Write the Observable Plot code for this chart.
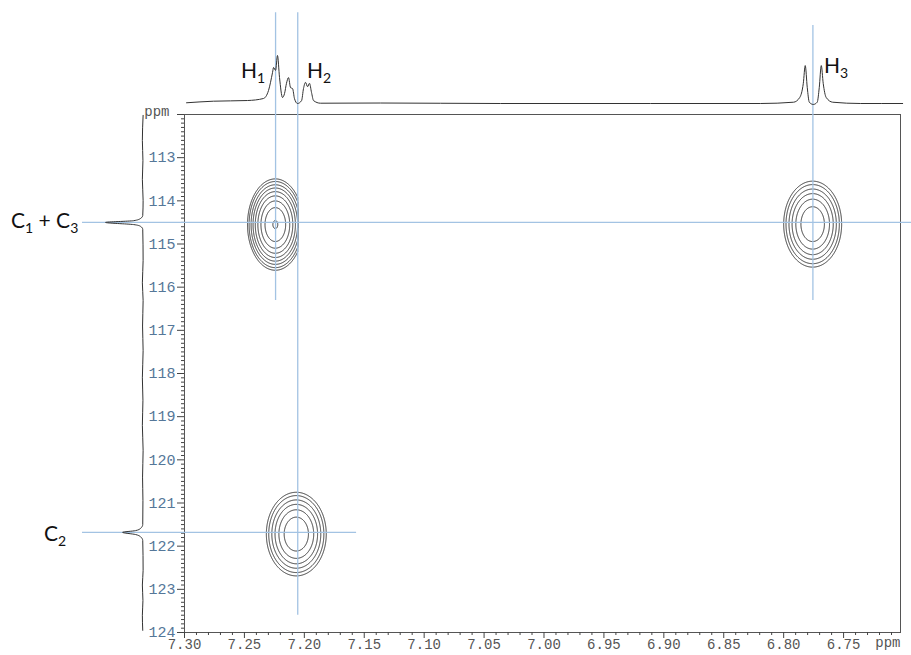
<!DOCTYPE html>
<html><head><meta charset="utf-8">
<script src="https://cdn.jsdelivr.net/npm/d3@7"></script>
<script src="https://cdn.jsdelivr.net/npm/@observablehq/plot@0.6"></script>
<style>
html,body{margin:0;padding:0;background:#fff;}
#wrap{position:relative;width:911px;height:655px;overflow:hidden;background:#fff;}
#wrap svg{position:absolute;left:0;top:0;}
.lab{position:absolute;font-family:Lato,"Open Sans",sans-serif;font-size:21px;color:#111;line-height:1;white-space:nowrap;}
.lab span{font-size:14px;position:relative;top:5px;}
</style></head><body><div id="wrap"></div>
<script>
// ---- 1D proton trace (top): chemical shift (ppm) and relative intensity
const topPpm = [7.2983, 7.2758, 7.2474, 7.2341, 7.2299, 7.2265, 7.2257, 7.2240, 7.2224, 7.2207, 7.2182, 7.2165, 7.2149, 7.2132, 7.2115, 7.2098, 7.2082, 7.2057, 7.2023, 7.2007, 7.1990, 7.1973, 7.1957, 7.1940, 7.1923, 7.1865, 7.1364, 7.0362, 6.9110, 6.8192, 6.7917, 6.7866, 6.7836, 6.7820, 6.7803, 6.7786, 6.7753, 6.7720, 6.7703, 6.7686, 6.7670, 6.7645, 6.7591, 6.7357, 6.7007];
const topInt = [0.015, 0.048, 0.062, 0.104, 0.27, 0.65, 0.75, 0.69, 1.0, 0.54, 0.125, 0.21, 0.42, 0.54, 0.33, 0.31, 0.10, 0.0, 0.06, 0.31, 0.44, 0.35, 0.42, 0.23, 0.06, 0.006, 0.01, 0.0, 0.0, 0.0, 0.027, 0.125, 0.42, 0.79, 0.33, 0.027, -0.02, 0.027, 0.33, 0.79, 0.42, 0.125, 0.027, 0.0, 0.0];

// ---- 1D carbon trace (left)
const leftPpm = [112.02, 112.6, 113.07, 113.5, 113.99, 114.34, 114.41, 114.46, 114.50, 114.55, 114.59, 114.66, 115.38, 115.9, 116.31, 116.9, 117.47, 118.1, 118.62, 119.2, 119.78, 120.4, 120.94, 121.50, 121.59, 121.64, 121.68, 121.73, 121.78, 121.87, 122.56, 122.9, 123.26, 123.6, 123.95];
const leftInt = [0.01, 0.03, 0.015, 0.03, 0.01, 0.02, 0.08, 0.26, 1.0, 0.26, 0.08, 0.02, 0.01, 0.03, 0.01, 0.025, 0.01, 0.03, 0.015, 0.03, 0.01, 0.025, 0.015, 0.02, 0.08, 0.21, 0.55, 0.21, 0.08, 0.02, 0.01, 0.03, 0.015, 0.03, 0.02];

// ---- 2D cross peaks (HSQC)
const crossH = [7.2242, 7.2067, 6.7758];
const crossC = [114.55, 121.72, 114.54];
const crossAmp = [1.0, 0.49, 0.49];
const crossSx = [0.0102, 0.0129, 0.01248];
const crossSy = [0.465, 0.50, 0.514];
const crossX1 = [7.258, 7.245, 6.812];
const crossX2 = [7.2055, 7.168, 6.740];
const crossY1 = [112.9, 120.0, 112.9];
const crossY2 = [116.3, 123.5, 116.2];
const contourLevels = [0.98, 0.7, 0.5, 0.36, 0.26, 0.19, 0.14, 0.1, 0.075];

// ---- guide lines
const vGuidePpm = [7.224, 7.2055, 6.7756];
const vGuideTop = [109.64, 109.64, 109.94];
const vGuideBottom = [116.31, 123.6, 116.31];
const hGuidePpm = [114.5, 121.68];
const hGuideLeft = [7.3851, 7.3851];
const hGuideRight = [6.69, 7.1564];

// ---- axes
const xTicks = [7.30, 7.25, 7.20, 7.15, 7.10, 7.05, 7.00, 6.95, 6.90, 6.85, 6.80, 6.75];
const yTicks = [112, 113, 114, 115, 116, 117, 118, 119, 120, 121, 122, 123, 124];
const xDomain = [7.30, 6.7025];
const yDomain = [112, 124];

// ---- labels
const labels = [
  {main: "H", sub: "1", left: 241, top: 59},
  {main: "H", sub: "2", left: 307, top: 59},
  {main: "H", sub: "3", left: 824, top: 54},
  {main: "C", sub: "1", tail: " + C", sub2: "3", left: 11, top: 209},
  {main: "C", sub: "2", left: 44, top: 522}
];

const W = 911, H = 655;
const mL = 184, mR = 11, mT = 114, mB = 23;
const wrap = document.getElementById("wrap");
const mono = "'Liberation Mono', 'DejaVu Sans Mono', monospace";

const xMinor = d3.range(0, 60).map(i => +(7.30 - i * 0.01).toFixed(2)).filter(v => v > 6.70 && !xTicks.some(t => Math.abs(t - v) < 1e-6));
const yMinor = d3.range(0, 121).map(i => +(112 + i * 0.1).toFixed(1)).filter(v => Math.abs(v - Math.round(v)) > 1e-6);

const contourMarks = crossH.map((cx, i) => Plot.contour({
  x1: crossX1[i], x2: crossX2[i], y1: crossY1[i], y2: crossY2[i],
  value: (x, y) => crossAmp[i] * Math.exp(-0.5 * (((x - cx) / crossSx[i]) ** 2 + ((y - crossC[i]) / crossSy[i]) ** 2)),
  thresholds: contourLevels,
  pixelSize: 0.5,
  stroke: "#333",
  strokeWidth: 1,
  fill: "none"
}));

const vGuides = vGuidePpm.map((p, i) => ({p, y1: vGuideTop[i], y2: vGuideBottom[i]}));
const hGuides = hGuidePpm.map((p, i) => ({p, x1: hGuideLeft[i], x2: hGuideRight[i]}));

const main = Plot.plot({
  width: W, height: H,
  marginLeft: mL, marginRight: mR, marginTop: mT, marginBottom: mB,
  style: {background: "transparent", fontFamily: mono, overflow: "visible"},
  x: {domain: xDomain},
  y: {domain: yDomain, reverse: true},
  marks: [
    ...contourMarks,
    Plot.frame({stroke: "#555", strokeWidth: 1}),
    Plot.axisX(xMinor, {anchor: "bottom", tickSize: 3, tickFormat: () => "", stroke: "#444", label: null}),
    Plot.axisX(xTicks, {anchor: "bottom", tickSize: 6, tickPadding: 1, tickFormat: d => d.toFixed(2), stroke: "#444", fill: "#555", fontSize: 14, label: null}),
    Plot.axisY(yMinor, {anchor: "left", tickSize: 3, tickFormat: () => "", stroke: "#444", label: null}),
    Plot.axisY(yTicks, {anchor: "left", tickSize: 7, tickPadding: 2, tickFormat: d => d === 112 ? "" : String(d), stroke: "#444", fill: "#557799", fontSize: 15, label: null}),
    Plot.text(["ppm"], {frameAnchor: "bottom-right", dy: 14, textAnchor: "end", fill: "#555", fontSize: 14, fontFamily: mono}),
    Plot.text(["ppm"], {frameAnchor: "top-left", dx: -15, dy: -8, textAnchor: "end", fill: "#555", fontSize: 14, fontFamily: mono}),
    Plot.ruleX(vGuides, {x: "p", y1: "y1", y2: "y2", stroke: "#a3c3e3", strokeWidth: 1.3}),
    Plot.ruleY(hGuides, {y: "p", x1: "x1", x2: "x2", stroke: "#a3c3e3", strokeWidth: 1.3})
  ]
});
wrap.appendChild(main);

const topData = topPpm.map((p, i) => ({p, v: topInt[i]}));
const topPlot = Plot.plot({
  width: W, height: 120,
  marginLeft: mL, marginRight: mR, marginTop: 55, marginBottom: 17,
  style: {background: "transparent", overflow: "visible"},
  x: {domain: xDomain, axis: null},
  y: {domain: [0, 1], axis: null},
  marks: [Plot.line(topData, {x: "p", y: "v", stroke: "#333", strokeWidth: 1, curve: "monotone-x"})]
});
wrap.appendChild(topPlot);

const leftData = leftPpm.map((p, i) => ({p, v: leftInt[i]}));
const leftPlot = Plot.plot({
  width: mL, height: H,
  marginLeft: 105, marginRight: 41, marginTop: mT, marginBottom: mB,
  style: {background: "transparent", overflow: "visible"},
  x: {domain: [0, 1], reverse: true, axis: null},
  y: {domain: yDomain, reverse: true, axis: null},
  marks: [Plot.line(leftData, {x: "v", y: "p", stroke: "#333", strokeWidth: 1, curve: "monotone-y"})]
});
wrap.appendChild(leftPlot);

for (const l of labels) {
  const d = document.createElement("div");
  d.className = "lab";
  d.style.left = l.left + "px";
  d.style.top = l.top + "px";
  d.appendChild(document.createTextNode(l.main));
  const s = document.createElement("span"); s.textContent = l.sub; d.appendChild(s);
  if (l.tail) {
    d.appendChild(document.createTextNode(l.tail));
    const s2 = document.createElement("span"); s2.textContent = l.sub2; d.appendChild(s2);
  }
  wrap.appendChild(d);
}
</script></body></html>
